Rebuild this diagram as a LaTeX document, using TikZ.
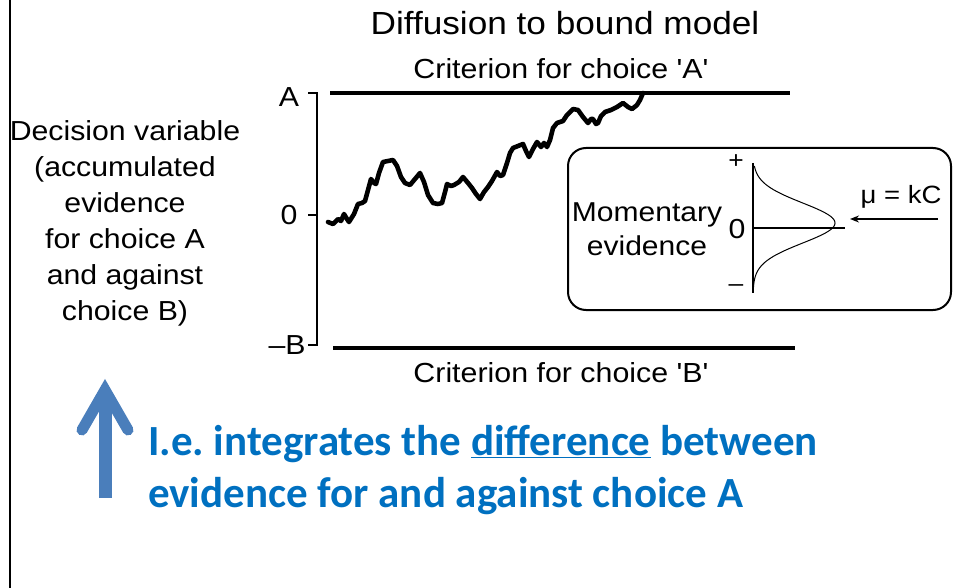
\documentclass[tikz,border=0pt]{standalone}
\usepackage{fontspec}
\setmainfont{Liberation Sans}
\newfontfamily\figfont[FakeStretch=1.1]{Liberation Sans}
\newfontfamily\slidefont{Carlito}
\usetikzlibrary{arrows.meta}
\definecolor{slideblue}{HTML}{0070C0}
\definecolor{arrowblue}{HTML}{4A7EBB}
\frenchspacing
\begin{document}
\begin{tikzpicture}[x=1pt,y=-1pt,
  figtext/.style={font=\figfont\fontsize{27.5}{36}\selectfont, inner sep=0pt, text=black},
  titletext/.style={font=\figfont\fontsize{32}{36}\selectfont, inner sep=0pt, text=black},
  crittext/.style={font=\figfont\fontsize{27.6}{34}\selectfont, inner sep=0pt, text=black},
  smalltext/.style={font=\figfont\fontsize{24}{28}\selectfont, inner sep=0pt, text=black},
  bluetext/.style={font=\slidefont\bfseries\fontsize{43}{52}\selectfont, inner sep=0pt, text=slideblue},
  bound/.style={line width=4.8pt},
  axisline/.style={line width=2pt},
  walk/.style={line width=4.6pt, line join=round, line cap=round}]
\useasboundingbox (0,0) rectangle (953,588);
% left border
\draw[line width=2.5pt] (10,-2) -- (10,590);
% titles
\node[titletext, anchor=base] (title) at (565,35) {Diffusion to bound model};
\node[crittext, anchor=base] (critA) at (561,79) {Criterion for choice 'A'};
\node[crittext, anchor=base] (critB) at (561,382) {Criterion for choice 'B'};
% left label
\node[figtext, align=center] (dv) at (125,223) {Decision variable\\(accumulated\\evidence\\for choice A\\and against\\choice B)};
% axis
\coordinate (axtop) at (317,93);
\coordinate (axbot) at (317,345);
\draw[axisline] (308,93) -- (axtop) -- (axbot) -- (308,345);
\draw[axisline] (308,215) -- (317,215);
\node[figtext] (labA) at (289,97) {A};
\node[figtext] (lab0) at (289,215) {0};
\node[figtext] (labB) at (287,345) {–B};
% bounds
\draw[bound] (330,93) -- (790,93);
\draw[bound] (333,348) -- (795,348);
% random walk
\draw[walk] (328,222) -- (333,224) -- (338,219) -- (341,221) -- (344,214) -- (347,219) -- (349,222) -- (354,214)
 -- (358,204) -- (362,203) -- (365,201) -- (368,190) -- (371,179) -- (374,183) -- (376,184) -- (379,173)
 -- (383,162) -- (388,161) -- (393,160) -- (397,166) -- (401,177) -- (405,183) -- (410,185) -- (415,179)
 -- (420,173) -- (424,182) -- (428,195) -- (433,203) -- (438,204) -- (442,203) -- (445,192) -- (447,184)
 -- (451,186) -- (454,185) -- (459,182) -- (463,177) -- (468,183) -- (472,188) -- (476,194) -- (480,199)
 -- (484,192) -- (488,187) -- (492,181) -- (497,172) -- (500,176) -- (503,175) -- (507,163) -- (510,153)
 -- (513,148) -- (518,146) -- (523,144) -- (526,151) -- (529,157) -- (533,149) -- (537,142) -- (541,147)
 -- (544,143) -- (547,147) -- (550,140) -- (553,128) -- (557,123) -- (563,121) -- (567,115) -- (573,109)
 -- (578,110) -- (583,117) -- (588,123) -- (591,119) -- (593,119) -- (596,124) -- (598,123) -- (601,116)
 -- (605,112) -- (611,110) -- (617,107) -- (620,105) -- (623,103) -- (628,107) -- (632,109) -- (637,105)
 -- (640,100) -- (643,93);
% inset box
\draw[line width=2pt, rounded corners=18pt] (568,148) rectangle (951,310);
\node[figtext, align=center, font=\figfont\fontsize{27.3}{34}\selectfont] (mom) at (647,229) {Momentary\\evidence};
\coordinate (iatop) at (753,163);
\coordinate (iabot) at (753,293);
\draw[axisline] (iatop) -- (iabot);
\coordinate (zl) at (753,228);
\coordinate (zr) at (845,228);
\draw[axisline] (zl) -- (zr);
\draw[line width=1pt, smooth] plot[domain=166:290, samples=90] ({753+82*exp(-((\x-223)^2)/800)}, \x);
\node[smalltext] (plus) at (736,162) {+};
\node[figtext] (zero) at (737,229) {0};
\node[smalltext] (minus) at (736,288) {–};
\coordinate (mustart) at (938,219);
\coordinate (muend) at (850,219);
\draw[line width=1.5pt, -{Stealth[length=9pt,width=7pt]}] (mustart) -- (muend);
\node[figtext, font=\figfont\fontsize{25}{30}\selectfont] (mu) at (901,197) {μ = kC};
% blue arrow
\fill[arrowblue] (98.5,498) rectangle (111.5,398);
\draw[arrowblue, line width=11pt, line cap=round, line join=miter] (82,430) -- (105,390) -- (128,430);
% blue text
\node[bluetext, anchor=base west] (l1) at (148,455) {I.e. integrates the \underline{difference} between};
\node[bluetext, anchor=base west] (l2) at (148,507) {evidence for and against choice A};
\end{tikzpicture}
\end{document}
